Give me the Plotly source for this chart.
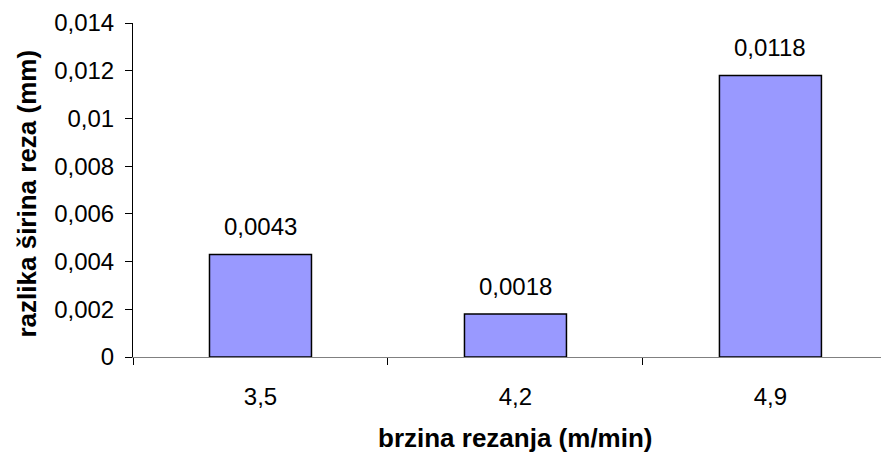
import plotly.graph_objects as go

# data
speeds = ["3,5", "4,2", "4,9"]
width_diff = [0.0043, 0.0018, 0.0118]
bar_labels = ["0,0043", "0,0018", "0,0118"]
y_ticks = [0, 0.002, 0.004, 0.006, 0.008, 0.01, 0.012, 0.014]
y_tick_text = ["0", "0,002", "0,004", "0,006", "0,008", "0,01", "0,012", "0,014"]

FONT = "Liberation Sans, Arial, Helvetica, sans-serif"

fig = go.Figure()
fig.add_trace(go.Bar(
    x=speeds,
    y=width_diff,
    width=0.4,
    marker=dict(color="#9999FF", line=dict(color="black", width=1.5)),
    hoverinfo="skip",
))

# value labels above the bars
for cat, val, lab in zip(speeds, width_diff, bar_labels):
    fig.add_annotation(x=cat, y=val, text=lab, showarrow=False,
                       yanchor="middle", yshift=28,
                       font=dict(size=24, color="black", family=FONT))

# axis titles as annotations so they sit where the original puts them
fig.add_annotation(x=speeds[1], xref="x", y=-0.242, yref="paper",
                   text="<b>brzina rezanja (m/min)</b>", showarrow=False,
                   yanchor="middle", font=dict(size=26, color="black", family=FONT))
fig.add_annotation(x=-0.140, xref="paper", y=0.49, yref="paper",
                   text="<b>razlika širina reza (mm)</b>", showarrow=False,
                   textangle=-90, xanchor="center", yanchor="middle",
                   font=dict(size=26, color="black", family=FONT))

# page body has an 8px margin, so the figure is 8px smaller than the window
fig.update_layout(
    width=881, height=444,
    margin=dict(l=125, r=0, t=15, b=95),
    paper_bgcolor="white",
    plot_bgcolor="white",
    showlegend=False,
    font=dict(family=FONT, size=24, color="black"),
)
fig.update_xaxes(
    type="category",
    range=[-0.5, 2.465],
    automargin=False,
    showline=True, linecolor="#808080", linewidth=1,
    ticks="outside", tickson="boundaries", ticklen=7,
    tickcolor="black", tickwidth=1,
    showgrid=False, zeroline=False,
    tickfont=dict(size=24, family=FONT),
    ticklabelstandoff=18,
)
fig.update_yaxes(
    range=[0, 0.014],
    automargin=False,
    tickvals=y_ticks, ticktext=y_tick_text,
    showline=True, linecolor="black", linewidth=1,
    ticks="outside", ticklen=7, tickcolor="black", tickwidth=1,
    showgrid=False, zeroline=False,
    tickfont=dict(size=24, family=FONT),
    ticklabelstandoff=6,
)

fig.write_html("out.html")
